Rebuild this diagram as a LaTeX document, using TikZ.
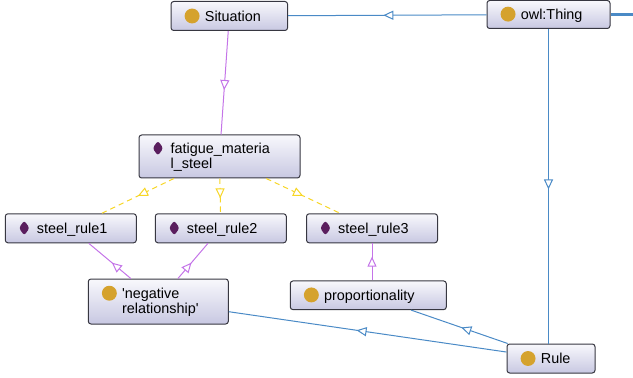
\documentclass[tikz,border=0pt]{standalone}
\usepackage{fontspec}
\setmainfont{Liberation Sans}
\usetikzlibrary{arrows.meta,decorations.markings}

\definecolor{clsgold}{RGB}{213,162,45}
\definecolor{indplum}{RGB}{90,30,94}
\definecolor{isablue}{RGB}{74,138,198}
\definecolor{instpurple}{RGB}{196,116,232}
\definecolor{typeyellow}{RGB}{247,214,38}
\definecolor{boxtop}{RGB}{248,248,252}
\definecolor{boxbot}{RGB}{200,200,226}
\definecolor{boxedge}{RGB}{55,55,65}

% 类与个体的小图标
\newcommand{\clsicon}{\tikz[baseline={(0pt,-3.9pt)}]\fill[clsgold] (0pt,0pt) circle (5.6pt);\hspace{4pt}}
\newcommand{\indicon}{\tikz[baseline={(0pt,-3.9pt)}]\fill[indplum] (0pt,5.6pt) -- (4pt,0pt) -- (0pt,-5.6pt) -- (-4pt,0pt) -- cycle;\hspace{5.5pt}}

\begin{document}
\begin{tikzpicture}[x=0.75pt, y=-0.75pt,
    box/.style={rectangle, rounded corners=2pt, draw=boxedge, line width=0.75pt,
        top color=boxtop, bottom color=boxbot, inner xsep=10.2pt, inner ysep=0pt,
        align=left, font=\fontsize{10.8}{10.5}\selectfont, minimum height=21.75pt},
    isa/.style={draw=isablue, line width=0.75pt},
    inst/.style={draw=instpurple, line width=0.75pt},
    typeof/.style={draw=typeyellow, line width=0.75pt, dash pattern=on 4pt off 3pt},
    midarrow/.style={postaction={decorate}, decoration={markings,
        mark=at position #1 with {\arrow{Triangle[fill=white, length=7.5pt, width=6.8pt]}}}}]
    \useasboundingbox (0,0) rectangle (633,378);
    % 类
    \node[box, text width=67pt] (sit) at (229.3,16) {\clsicon Situation};
    \node[box, text width=71.85pt, minimum height=21pt] (thing) at (548.5,14.5) {\clsicon owl:Thing};
    \node[box, text width=84.6pt, minimum height=33.75pt] (neg) at (158.3,301.5)
        {\clsicon\begin{tabular}[t]{@{}l@{}}\textquotesingle negative\\relationship\textquotesingle\end{tabular}};
    \node[box, text width=96.6pt, minimum height=21.5pt] (prop) at (368.3,295.3) {\clsicon proportionality};
    \node[box, text width=45.6pt] (rule) at (551,358.5) {\clsicon Rule};
    % 个体
    \node[box, text width=100.35pt, minimum height=32.25pt] (fat) at (219.5,156.5)
        {\indicon\begin{tabular}[t]{@{}l@{}}fatigue\_materia\\l\_steel\end{tabular}};
    \node[box, text width=77.85pt] (r1) at (70.8,228.3) {\indicon steel\_rule1};
    \node[box, text width=77.85pt] (r2) at (220.8,228.3) {\indicon steel\_rule2};
    \node[box, text width=77.85pt] (r3) at (372,228.3) {\indicon steel\_rule3};
    \coordinate (out) at (633,14.5);
    % 子类关系
    \draw[isa, midarrow=0.52] (thing) -- (sit);
    \draw[isa, midarrow=0.51] (thing.south) -- (thing.south |- rule.north);
    \draw[isa, midarrow=0.54] (rule) -- (neg);
    \draw[isa, midarrow=0.48] (rule) -- (prop);
    \draw[isa, line width=2.2pt] (thing.east) -- (out);
    % 实例关系
    \draw[inst, midarrow=0.57] (sit) -- (fat);
    \draw[inst, midarrow=0.45] (neg) -- (r1);
    \draw[inst, midarrow=0.45] (neg) -- (r2);
    \draw[inst, midarrow=0.64] (r3.south |- prop.north) -- (r3.south);
    % 类型断言
    \draw[typeof, midarrow=0.5] (fat) -- (r1);
    \draw[typeof, midarrow=0.57] (fat) -- (r2);
    \draw[typeof, midarrow=0.5] (fat) -- (r3);
\end{tikzpicture}
\end{document}
